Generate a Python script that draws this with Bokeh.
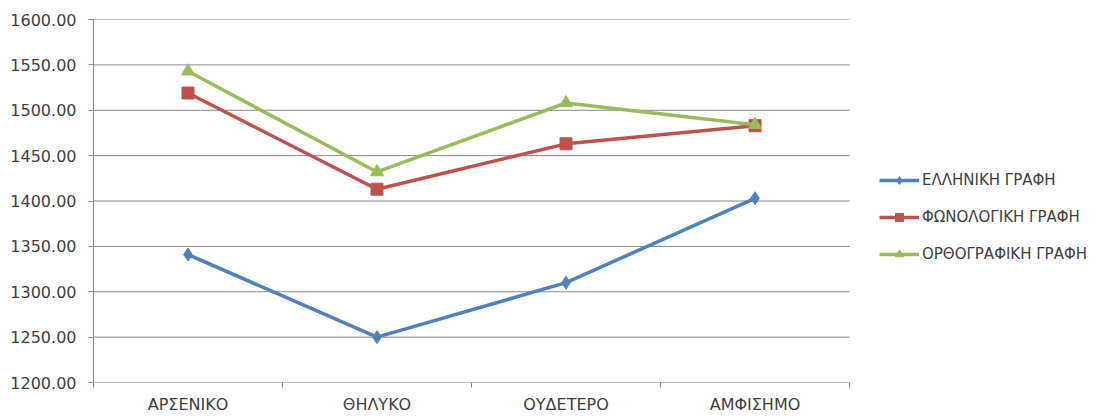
from bokeh.plotting import figure
from bokeh.models import Range1d, FixedTicker, Legend, LegendItem, NumeralTickFormatter
from bokeh.embed import file_html
from bokeh.resources import INLINE

categories = ["ΑΡΣΕΝΙΚΟ", "ΘΗΛΥΚΟ", "ΟΥΔΕΤΕΡΟ", "ΑΜΦΙΣΗΜΟ"]
series_names = ["ΕΛΛΗΝΙΚΗ ΓΡΑΦΗ", "ΦΩΝΟΛΟΓΙΚΗ ΓΡΑΦΗ", "ΟΡΘΟΓΡΑΦΙΚΗ ΓΡΑΦΗ"]
elliniki = [1341, 1250, 1310, 1403]
fonologiki = [1519, 1413, 1463, 1483]
orthografiki = [1543, 1432, 1508, 1484]
y_ticks = [1200, 1250, 1300, 1350, 1400, 1450, 1500, 1550, 1600]

FONT = "DejaVu Sans"
GRID = "#878787"
TXT = "#404040"

n = len(categories)
xs = [i + 0.5 for i in range(n)]

# plot area spans 93..849 px for the categories; the frame continues to the right edge
# so that the legend (inside the frame) is not clipped
W, LEFT, DATA_RIGHT = 1110, 93, 849
x_end = n * (W - LEFT) / (DATA_RIGHT - LEFT)

p = figure(width=W, height=416, output_backend="svg", toolbar_location=None,
           x_range=Range1d(0, x_end), y_range=Range1d(1200, 1600),
           min_border_left=LEFT, min_border_right=0, min_border_top=19, min_border_bottom=34)
p.outline_line_color = None
p.background_fill_color = "white"
p.border_fill_color = "white"

p.xgrid.visible = False
p.ygrid.visible = False
# horizontal gridlines only across the category area
p.segment(x0=[0] * len(y_ticks), x1=[n] * len(y_ticks), y0=y_ticks, y1=y_ticks,
          line_color=GRID, line_width=1)

p.yaxis.ticker = FixedTicker(ticks=y_ticks)
p.yaxis.formatter = NumeralTickFormatter(format="0.00")
p.yaxis.axis_line_color = GRID
p.yaxis.major_tick_line_color = GRID
p.yaxis.major_tick_out = 5
p.yaxis.major_tick_in = 0
p.yaxis.minor_tick_line_color = None
p.yaxis.major_label_standoff = 12
p.yaxis.major_label_text_font = FONT
p.yaxis.major_label_text_font_size = "16px"
p.yaxis.major_label_text_color = TXT

p.xaxis.ticker = FixedTicker(ticks=xs, minor_ticks=list(range(n + 1)))
p.xaxis.major_label_overrides = {x: c for x, c in zip(xs, categories)}
p.xaxis.axis_line_color = None
p.xaxis.major_tick_line_color = None
p.xaxis.major_tick_out = 0
p.xaxis.minor_tick_line_color = GRID
p.xaxis.minor_tick_out = 5
p.xaxis.minor_tick_in = 0
p.xaxis.major_label_standoff = 7
p.xaxis.major_label_text_font = FONT
p.xaxis.major_label_text_font_size = "16px"
p.xaxis.major_label_text_color = TXT

colors = ["#4F81BD", "#C0504D", "#9BBB59"]
markers = ["diamond", "square", "triangle"]
sizes = [13, 12, 13]
items = []
for name, vals, c, m, s in zip(series_names, [elliniki, fonologiki, orthografiki], colors, markers, sizes):
    lr = p.line(xs, vals, line_color=c, line_width=3.5)
    mr = p.scatter(xs, vals, marker=m, size=s, fill_color=c, line_color=c)
    items.append(LegendItem(label=name, renderers=[lr, mr]))

legend = Legend(items=items, location=(786, 118), orientation="vertical",
                glyph_width=40, glyph_height=20, label_height=20, spacing=17,
                label_standoff=3, padding=0, margin=0,
                border_line_color=None, background_fill_alpha=0,
                label_text_font=FONT, label_text_font_size="15px", label_text_color=TXT)
p.add_layout(legend, "center")

open("out.html", "w").write(file_html(p, INLINE))
